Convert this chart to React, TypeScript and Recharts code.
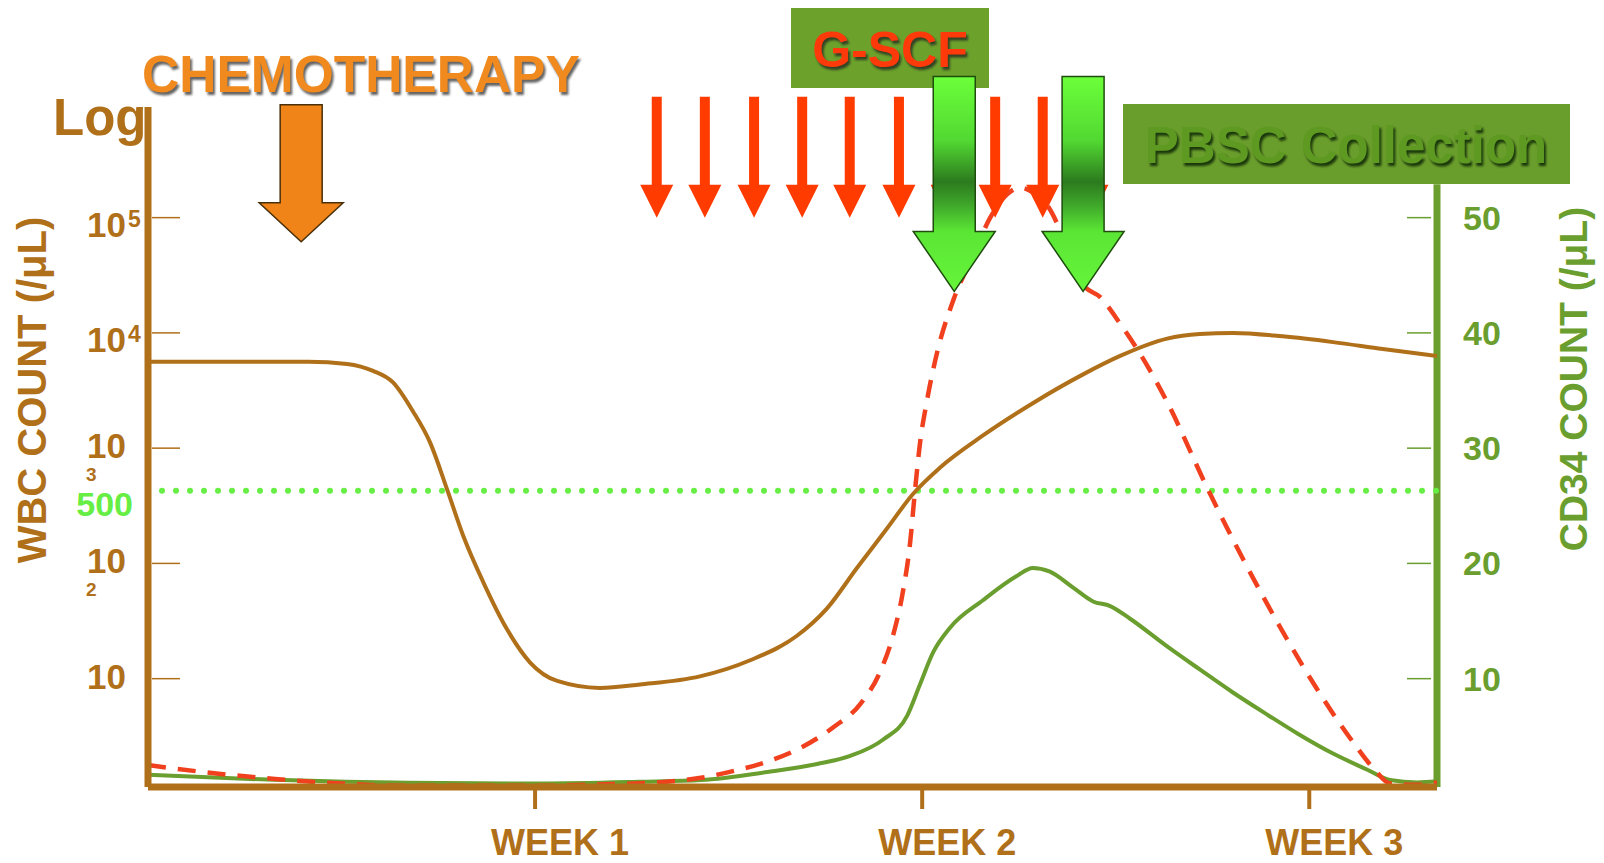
import React from 'react'
import { ComposedChart, Line, Scatter, XAxis, YAxis, ReferenceLine } from 'recharts'

const BROWN = '#B0701A'
const GREEN = '#6A9E2E'
const RED = '#F0401E'
const DOT_GREEN = '#66EE44'
const FONT = '"Liberation Sans", Arial, sans-serif'

// x axis: days since start, ticks at the end of each week
const weekTicks = [7, 14, 21]
const weekLabels = ['WEEK 1', 'WEEK 2', 'WEEK 3']
const wbcTicks = [1, 2, 3, 4, 5]
const cd34Ticks = [10, 20, 30, 40, 50]

// WBC count (log10 /uL), brown solid line
const wbcDays = [0, 1.5, 2.9, 3.6, 4.07, 4.43, 4.79, 5.1, 5.41, 5.7, 6.06, 6.49, 6.91, 7.4, 8.17, 8.9, 9.98, 10.89, 11.73, 12.28, 12.82, 13.36, 13.83, 14.32, 15.1, 16.0, 16.91, 17.58, 18.43, 19.02, 19.62, 20.52, 21.43, 22.33, 23.31]
const wbcLog = [3.75, 3.75, 3.75, 3.73, 3.67, 3.57, 3.32, 3.05, 2.64, 2.24, 1.84, 1.43, 1.14, 0.98, 0.92, 0.95, 1.02, 1.16, 1.37, 1.61, 1.96, 2.3, 2.6, 2.83, 3.11, 3.39, 3.64, 3.8, 3.95, 3.99, 4.0, 3.97, 3.92, 3.86, 3.8]

// progenitor level (log10), red dashed line
const progDays = [0, 1.0, 2.3, 3.5, 4.7, 6.0, 7.0, 8.0, 9.2, 10.0, 10.6, 11.2, 11.8, 12.4, 12.88, 13.24, 13.47, 13.65, 13.78, 13.87, 13.96, 14.09, 14.27, 14.56, 14.92, 15.23, 15.53, 15.77, 16.0, 16.3, 16.61, 16.91, 17.22, 17.58, 17.94, 18.43, 19.15, 19.8, 20.47, 21.14, 21.79, 22.2, 22.46, 22.95, 23.31]
const progLog = [0.25, 0.19, 0.13, 0.09, 0.07, 0.07, 0.07, 0.08, 0.1, 0.14, 0.2, 0.28, 0.4, 0.58, 0.78, 1.06, 1.37, 1.75, 2.17, 2.63, 3.04, 3.42, 3.83, 4.28, 4.67, 5.0, 5.2, 5.26, 5.22, 5.08, 4.76, 4.42, 4.31, 4.08, 3.82, 3.4, 2.66, 2.04, 1.45, 0.91, 0.45, 0.2, 0.09, 0.08, 0.1]

// CD34 count (/uL), green solid line
const cd34Days = [0, 2.28, 4.7, 7.1, 8.9, 10.0, 11.2, 12.1, 12.7, 13.29, 13.73, 13.96, 14.2, 14.5, 15.1, 15.71, 16.0, 16.3, 16.73, 17.09, 17.4, 17.76, 18.43, 19.02, 19.62, 20.25, 20.8, 21.43, 22.05, 22.46, 22.95, 23.31]
const cd34Count = [1.66, 1.22, 0.96, 0.9, 1.05, 1.2, 1.9, 2.6, 3.3, 4.7, 6.8, 9.5, 12.3, 14.4, 16.8, 18.9, 19.6, 19.3, 17.9, 16.7, 16.3, 15.2, 12.8, 10.8, 8.8, 6.85, 5.2, 3.5, 2.1, 1.2, 1.0, 1.1]

const thresholdLog = 2.63
const chemoDays = [2.77]
const chemoTip = 4.79
const gcsfDays = [9.2, 10.07, 10.96, 11.83, 12.69, 13.58, 14.45, 15.32, 16.18, 17.07]
const gcsfTip = 5.0
const pbscDays = [14.58, 16.91]
const pbscTip = 4.36

const wbcData = wbcDays.map((day, i) => ({ day, value: wbcLog[i] }))
const progData = progDays.map((day, i) => ({ day, value: progLog[i] }))
const cd34Data = cd34Days.map((day, i) => ({ day, value: cd34Count[i] }))
const chemoData = chemoDays.map((day) => ({ day, value: chemoTip }))
const gcsfData = gcsfDays.map((day) => ({ day, value: gcsfTip }))
const pbscData = pbscDays.map((day) => ({ day, value: pbscTip }))

const arrowPath = (cx: number, cy: number, shaft: number, head: number, headLen: number, len: number) =>
  `M${cx - shaft},${cy - len} L${cx + shaft},${cy - len} L${cx + shaft},${cy - headLen} L${cx + head},${cy - headLen} L${cx},${cy} L${cx - head},${cy - headLen} L${cx - shaft},${cy - headLen} Z`

const ChemoArrow = (p: any) => (
  <path d={arrowPath(p.cx, p.cy, 21, 42, 39, 137)} fill="#F08418" stroke="#4A3008" strokeWidth={1.5} />
)
const GcsfArrow = (p: any) => (
  <path d={arrowPath(p.cx, p.cy, 5, 16.5, 33, 121)} fill="#FF3B00" />
)
const PbscArrow = (p: any) => (
  <path d={arrowPath(p.cx, p.cy, 21, 41, 60, 215)} fill="url(#pbscGrad)" stroke="#1E4D0E" strokeWidth={1.5} />
)

const WbcTick = (props: any) => {
  const { x, y, payload } = props
  const v = payload.value
  const style = { fontFamily: FONT, fontWeight: 700, fill: BROWN }
  return (
    <g>
      <line x1={x + 4} x2={x + 32} y1={y} y2={y} stroke={BROWN} strokeWidth={1.5} />
      <text x={x - 61} y={y + (v >= 4 ? 19 : 10)} fontSize={35} {...style}>10</text>
      {v >= 4 && <text x={x - 20} y={y + 9} fontSize={23} {...style}>{v}</text>}
      {(v === 2 || v === 3) && <text x={x - 62} y={y + 33} fontSize={19} {...style}>{v}</text>}
    </g>
  )
}

const Cd34Tick = (props: any) => {
  const { x, y, payload } = props
  return (
    <g>
      <line x1={x - 30} x2={x - 6} y1={y} y2={y} stroke={GREEN} strokeWidth={1.5} />
      <text x={x + 26} y={y + 12} fontSize={34} fontFamily={FONT} fontWeight={700} fill={GREEN}>{payload.value}</text>
    </g>
  )
}

const WeekTick = (props: any) => {
  const { x, y, payload, index } = props
  return (
    <text x={x + 25} y={y + 46} textAnchor="middle" fontSize={36} fontFamily={FONT} fontWeight={700} fill={BROWN}>
      {weekLabels[index] ?? `WEEK ${payload.value / 7}`}
    </text>
  )
}

const ThresholdLabel = (props: any) => {
  const { viewBox } = props
  return (
    <text x={viewBox.x - 15} y={viewBox.y + 25} textAnchor="end" fontSize={34} fontFamily={FONT} fontWeight={700} fill={DOT_GREEN}>500</text>
  )
}

const Shadowed = ({ x, y, size, fill, shadow, anchor = 'start', children }: any) => (
  <g>
    <text x={x + 2} y={y + 3} fontSize={size} fontFamily={FONT} fontWeight={700} fill={shadow} opacity={0.75} textAnchor={anchor} filter="url(#soft)">{children}</text>
    <text x={x} y={y} fontSize={size} fontFamily={FONT} fontWeight={700} fill={fill} textAnchor={anchor}>{children}</text>
  </g>
)

export default function App() {
  return (
    <div style={{ position: 'absolute', left: 0, top: 0, width: 1604, height: 863, background: '#fff' }}>
      <ComposedChart width={1604} height={863} margin={{ top: 107, right: 67, bottom: 6, left: 48 }}>
        <defs>
          <linearGradient id="pbscGrad" x1="0" y1="0" x2="0" y2="1">
            <stop offset="0" stopColor="#6CFF3A" />
            <stop offset="0.3" stopColor="#52D832" />
            <stop offset="0.49" stopColor="#2C7A1E" />
            <stop offset="0.6" stopColor="#3FA82A" />
            <stop offset="0.72" stopColor="#5BE535" />
            <stop offset="1" stopColor="#66F53A" />
          </linearGradient>
          <filter id="soft" x="-5%" y="-20%" width="110%" height="140%">
            <feGaussianBlur stdDeviation="1.2" />
          </filter>
        </defs>
        <g>
          <rect x={791} y={8} width={198} height={80} fill="#6CA12C" />
          <Shadowed x={890} y={67} size={50} fill="#FF3A0A" shadow="#222" anchor="middle">G-SCF</Shadowed>
          <rect x={1123} y={104} width={447} height={80} fill="#6A9E2C" />
          <Shadowed x={1346} y={163} size={51} fill="#5E9A22" shadow="#061400" anchor="middle">PBSC Collection</Shadowed>
          <Shadowed x={142} y={92} size={51.5} fill="#F08A1E" shadow="#333">CHEMOTHERAPY</Shadowed>
          <text x={53} y={135} fontSize={51} fontFamily={FONT} fontWeight={700} fill={BROWN}>Log</text>
          <text x={32} y={390} transform="rotate(-90 32 390)" textAnchor="middle" dominantBaseline="central" fontSize={40} fontFamily={FONT} fontWeight={700} fill={BROWN}>WBC COUNT (/μL)</text>
          <text x={1573} y={379} transform="rotate(-90 1573 379)" textAnchor="middle" dominantBaseline="central" fontSize={39} fontFamily={FONT} fontWeight={700} fill={GREEN}>CD34 COUNT (/μL)</text>
        </g>
        <XAxis
          type="number"
          dataKey="day"
          domain={[0, 23.31]}
          ticks={weekTicks}
          height={70}
          axisLine={{ stroke: BROWN, strokeWidth: 7 }}
          tickLine={{ stroke: BROWN, strokeWidth: 4 }}
          tickSize={22}
          tickMargin={0}
          tick={<WeekTick />}
        />
        <YAxis
          yAxisId="wbc"
          type="number"
          domain={[0.06, 5.96]}
          ticks={wbcTicks}
          allowDataOverflow
          width={100}
          axisLine={{ stroke: BROWN, strokeWidth: 7 }}
          tickLine={false}
          tickSize={0}
          tickMargin={0}
          tick={<WbcTick />}
        />
        <YAxis yAxisId="marks" type="number" domain={[0.06, 5.96]} width={0} hide />
        <YAxis
          yAxisId="cd34"
          orientation="right"
          type="number"
          domain={[0.6, 59.6]}
          ticks={cd34Ticks}
          allowDataOverflow
          width={100}
          axisLine={false}
          tickLine={false}
          tickSize={0}
          tickMargin={0}
          tick={<Cd34Tick />}
        />
        <ReferenceLine
          yAxisId="cd34"
          segment={[{ x: 23.31, y: 0.6 }, { x: 23.31, y: 52.9 }]}
          stroke={GREEN}
          strokeWidth={7}
          ifOverflow="visible"
        />
        <ReferenceLine
          yAxisId="wbc"
          y={thresholdLog}
          stroke={DOT_GREEN}
          strokeWidth={6}
          strokeDasharray="0 14"
          strokeLinecap="round"
          label={<ThresholdLabel />}
        />
        <Scatter yAxisId="marks" data={chemoData} dataKey="value" shape={ChemoArrow} isAnimationActive={false} />
        <Scatter yAxisId="marks" data={gcsfData} dataKey="value" shape={GcsfArrow} isAnimationActive={false} />
        <Scatter yAxisId="marks" data={pbscData} dataKey="value" shape={PbscArrow} isAnimationActive={false} />
        <Line yAxisId="wbc" data={wbcData} dataKey="value" type="monotone" stroke={BROWN} strokeWidth={4} dot={false} activeDot={false} isAnimationActive={false} />
        <Line yAxisId="cd34" data={cd34Data} dataKey="value" type="monotone" stroke={GREEN} strokeWidth={4} dot={false} activeDot={false} isAnimationActive={false} />
        <Line yAxisId="wbc" data={progData} dataKey="value" type="monotone" stroke={RED} strokeWidth={4.5} strokeDasharray="18 12" dot={false} activeDot={false} isAnimationActive={false} />
      </ComposedChart>
    </div>
  )
}
